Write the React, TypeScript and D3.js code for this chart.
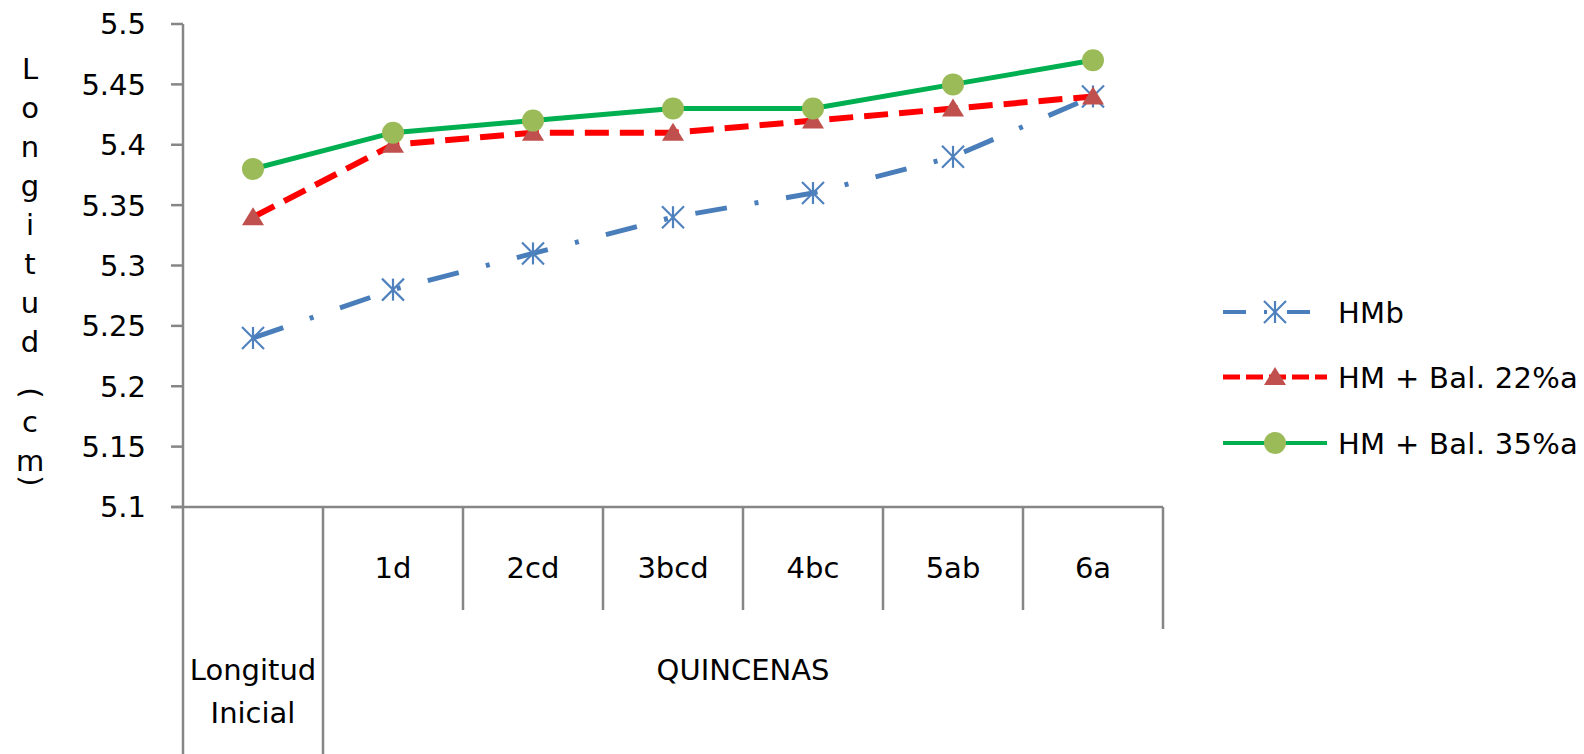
import * as d3 from 'd3';

// categories on the x axis
const initialLabel = ['Longitud', 'Inicial'];
const quincenas = ['1d', '2cd', '3bcd', '4bc', '5ab', '6a'];
const categories = ['Longitud Inicial', ...quincenas];
const groupLabel = 'QUINCENAS';

// series values (cm)
const hmb = [5.24, 5.28, 5.31, 5.34, 5.36, 5.39, 5.44];
const bal22 = [5.34, 5.4, 5.41, 5.41, 5.42, 5.43, 5.44];
const bal35 = [5.38, 5.41, 5.42, 5.43, 5.43, 5.45, 5.47];

const seriesNames = ['HMb', 'HM + Bal. 22%a', 'HM + Bal. 35%a'];

const yTicks = [5.1, 5.15, 5.2, 5.25, 5.3, 5.35, 5.4, 5.45, 5.5];
const yTitle = 'Longitud(cm)';

const W = 1584;
const H = 754;
const FONT = 'DejaVu Sans, Verdana, sans-serif';
const AXIS = '#868686';

const series = [
  { name: seriesNames[0], values: hmb, color: '#4a7ebb', width: 5, dash: '32 28 4 28', legendDash: '23 18 3 20', marker: 'star' },
  { name: seriesNames[1], values: bal22, color: '#ff0000', width: 6, dash: '24 11', legendDash: '17 6', marker: 'triangle' },
  { name: seriesNames[2], values: bal35, color: '#00b050', width: 5, dash: null, legendDash: null, marker: 'circle' }
];

const Marker = ({ type, x, y }: { type: string; x: number; y: number }) => {
  if (type === 'circle') return <circle cx={x} cy={y} r={11} fill="#9bbb59" />;
  if (type === 'triangle')
    return <path d={`M${x},${y - 10}L${x + 11},${y + 8}L${x - 11},${y + 8}Z`} fill="#c0504d" />;
  const r = 11;
  return (
    <g stroke="#4f81bd" strokeWidth={2.2}>
      <line x1={x} y1={y - r} x2={x} y2={y + r} />
      <line x1={x - r} y1={y - r} x2={x + r} y2={y + r} />
      <line x1={x - r} y1={y + r} x2={x + r} y2={y - r} />
    </g>
  );
};

export default function App() {
  const x = d3.scaleBand<string>().domain(categories).range([183, 1163]);
  const y = d3.scaleLinear().domain([5.1, 5.5]).range([507, 24]);
  const bw = x.bandwidth();
  const cx = (i: number) => (x(categories[i]) as number) + bw / 2;

  const line = d3
    .line<number>()
    .x((_, i) => cx(i))
    .y((d) => y(d));

  const fmt = d3.format('~g');

  // y title letters stacked vertically, parentheses turned sideways
  const titleItems: { ch: string; y: number; rot: boolean }[] = [];
  let base = 40;
  for (const ch of yTitle.split('')) {
    if (ch === '(') {
      titleItems.push({ ch, y: base + 41, rot: true });
      base += 80;
    } else if (ch === ')') {
      titleItems.push({ ch, y: base + 10, rot: true });
    } else {
      if (titleItems.length && titleItems[titleItems.length - 1].ch === '(') {
        titleItems.push({ ch, y: base, rot: false });
      } else {
        base += 39;
        titleItems.push({ ch, y: base, rot: false });
      }
    }
  }

  const legendRows = [312, 377, 443];
  const quincenaStart = x(quincenas[0]) as number;
  const quincenaEnd = (x(quincenas[quincenas.length - 1]) as number) + bw;

  return (
    <svg
      width={W}
      height={H}
      viewBox={`0 0 ${W} ${H}`}
      style={{ position: 'absolute', left: 0, top: 0, background: '#fff' }}
    >
      <rect width={W} height={H} fill="#fff" />

      {/* y axis */}
      <line x1={183} y1={y(5.5)} x2={183} y2={H} stroke={AXIS} strokeWidth={2.5} />
      {yTicks.map((t) => (
        <g key={t}>
          <line x1={171} x2={183} y1={y(t)} y2={y(t)} stroke={AXIS} strokeWidth={2.5} />
          <text
            x={146}
            y={y(t)}
            dy="0.36em"
            textAnchor="end"
            fontFamily={FONT}
            fontSize={29}
            fill="#000"
          >
            {fmt(t)}
          </text>
        </g>
      ))}

      {/* y title */}
      {titleItems.map((d, i) =>
        d.rot ? (
          <text
            key={i}
            transform={`translate(30,${d.y}) rotate(90)`}
            textAnchor="middle"
            dy="0.315em"
            fontFamily={FONT}
            fontSize={29}
          >
            {d.ch}
          </text>
        ) : (
          <text key={i} x={30} y={d.y} textAnchor="middle" fontFamily={FONT} fontSize={29}>
            {d.ch}
          </text>
        )
      )}

      {/* x axis with grouped categories */}
      <line x1={171} x2={1163} y1={y(5.1)} y2={y(5.1)} stroke={AXIS} strokeWidth={2.5} />
      {categories.map((c, i) => {
        if (i === 0) return null;
        const xx = x(c) as number;
        return (
          <line key={c} x1={xx} x2={xx} y1={y(5.1)} y2={i === 1 ? H : 610} stroke={AXIS} strokeWidth={2.5} />
        );
      })}
      <line x1={1163} x2={1163} y1={y(5.1)} y2={629} stroke={AXIS} strokeWidth={2.5} />

      {quincenas.map((q) => (
        <text
          key={q}
          x={(x(q) as number) + bw / 2}
          y={578}
          textAnchor="middle"
          fontFamily={FONT}
          fontSize={29}
        >
          {q}
        </text>
      ))}
      {initialLabel.map((t, i) => (
        <text key={t} x={cx(0)} y={680 + i * 43} textAnchor="middle" fontFamily={FONT} fontSize={29}>
          {t}
        </text>
      ))}
      <text x={(quincenaStart + quincenaEnd) / 2} y={680} textAnchor="middle" fontFamily={FONT} fontSize={29}>
        {groupLabel}
      </text>

      {/* series */}
      {series.map((s) => (
        <g key={s.name}>
          <path
            d={line(s.values) as string}
            fill="none"
            stroke={s.color}
            strokeWidth={s.width}
            strokeDasharray={s.dash ?? undefined}
          />
          {s.values.map((v, i) => (
            <Marker key={i} type={s.marker} x={cx(i)} y={y(v)} />
          ))}
        </g>
      ))}

      {/* legend */}
      {series.map((s, i) => (
        <g key={s.name}>
          <line
            x1={1223}
            x2={1327}
            y1={legendRows[i]}
            y2={legendRows[i]}
            stroke={s.color}
            strokeWidth={s.width - 1}
            strokeDasharray={s.legendDash ?? undefined}
          />
          <Marker type={s.marker} x={1275} y={legendRows[i]} />
          <text x={1338} y={legendRows[i] + 11} fontFamily={FONT} fontSize={29} letterSpacing={0.3}>
            {s.name}
          </text>
        </g>
      ))}
    </svg>
  );
}
